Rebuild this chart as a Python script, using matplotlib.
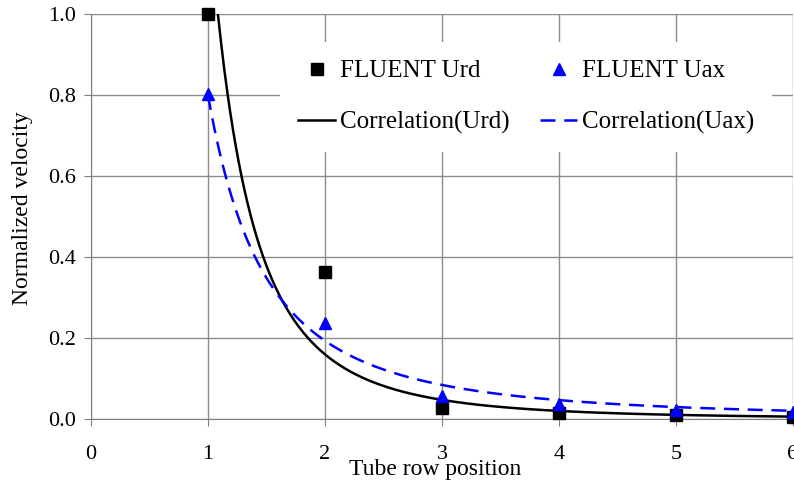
import numpy as np
import matplotlib.pyplot as plt

plt.rcParams['font.family'] = ['Liberation Serif', 'DejaVu Serif']

# FLUENT results per tube row
rows = [1, 2, 3, 4, 5, 6]
u_rd = [1.0, 0.362, 0.027, 0.015, 0.010, 0.006]
u_ax = [0.803, 0.238, 0.057, 0.038, 0.023, 0.017]

# power-law correlations  U = c * n^-k
c_rd, k_rd = 1.277, 3.0
c_ax, k_ax = 0.8, 2.05

n = np.linspace(1.0, 6.0, 400)
corr_rd = c_rd * n ** -k_rd
corr_ax = c_ax * n ** -k_ax

fig = plt.figure(figsize=(7.94, 4.87), dpi=100)
ax = fig.add_axes([0.1146, 0.1396, 0.8841, 0.8315])

ax.grid(True, color='#8c8c8c', linewidth=1.0)
ax.set_axisbelow(True)

h1, = ax.plot(rows, u_rd, 's', color='black', markersize=8.5, clip_on=False, zorder=4)
h2, = ax.plot(rows, u_ax, '^', color='blue', markersize=9, clip_on=False, zorder=4)
h3, = ax.plot(n, corr_rd, '-', color='black', linewidth=1.8, zorder=3)
h4, = ax.plot(n, corr_ax, '--', color='blue', linewidth=1.8, dashes=(6, 3.5), zorder=3)

ax.set_xlim(0, 6)
ax.set_ylim(0, 1.0)
ax.set_xticks(range(0, 7))
ax.set_yticks(np.arange(0, 1.01, 0.2))
ax.set_yticklabels(['%.1f' % v for v in np.arange(0, 1.01, 0.2)])
ax.tick_params(direction='out', length=5, color='#808080', labelsize=16, pad=6)
ax.tick_params(axis='x', pad=14)

for side in ['top', 'right']:
    ax.spines[side].set_visible(False)
for side in ['left', 'bottom']:
    ax.spines[side].set_color('#808080')

ax.set_xlabel('Tube row position', fontsize=17, va='center')
ax.xaxis.set_label_coords(0.49, -0.125)
ax.set_ylabel('Normalized velocity', fontsize=17, va='center')
ax.yaxis.set_label_coords(-0.098, 0.52)

# two columns: markers on the first row, correlations on the second
leg = ax.legend([h1, h3, h2, h4],
                ['FLUENT Urd', 'Correlation(Urd)', 'FLUENT Uax', 'Correlation(Uax)'],
                ncol=2, loc='center', bbox_to_anchor=(0.62, 0.795), fontsize=18,
                frameon=True, fancybox=False, edgecolor='none', framealpha=1,
                handlelength=1.5, handletextpad=0.2, columnspacing=1.2, labelspacing=1.15,
                borderpad=0.7)

fig.savefig('out.png', dpi=100)
